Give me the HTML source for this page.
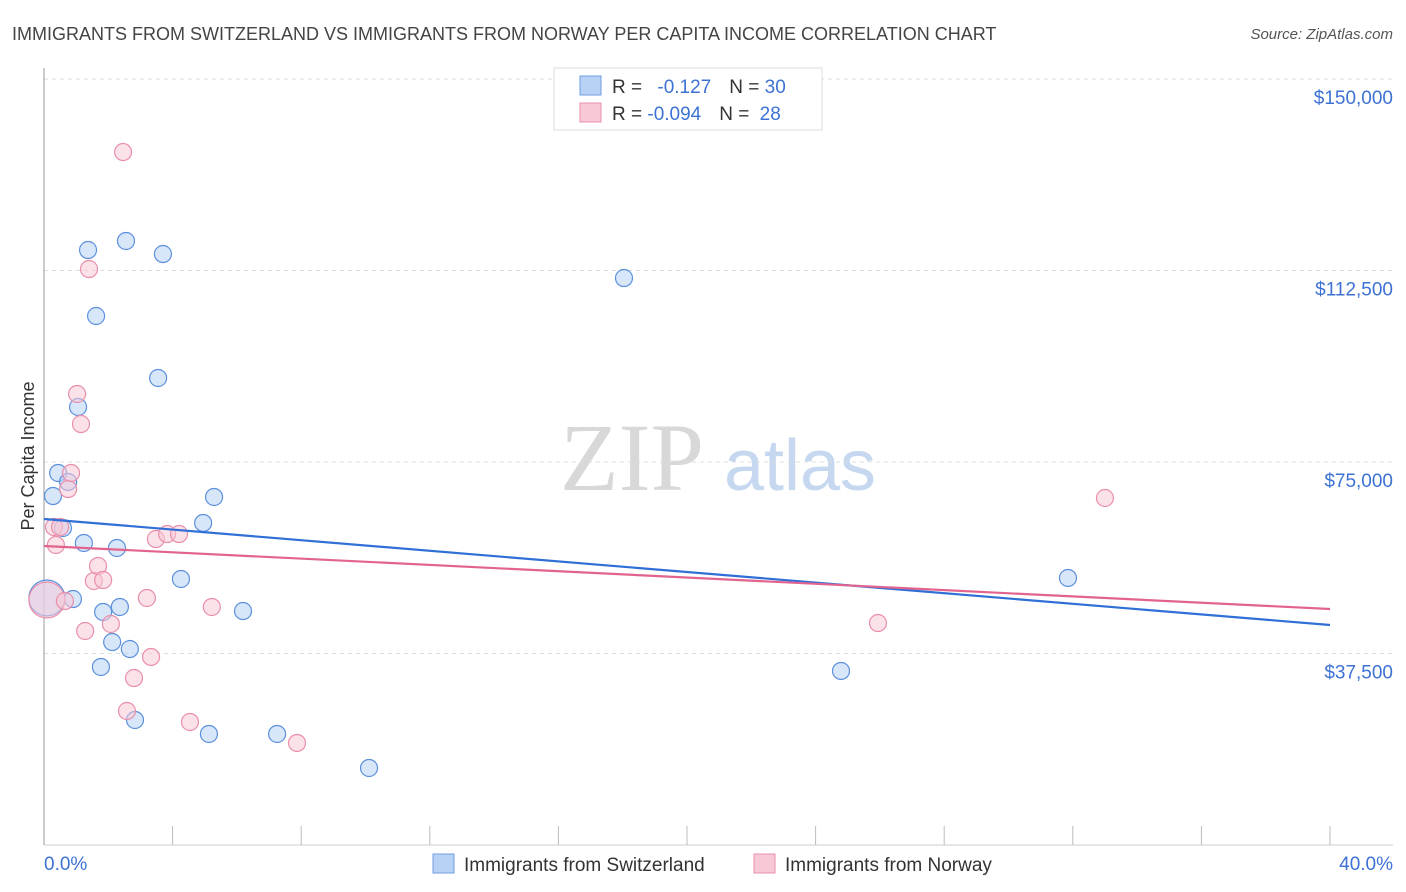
<!DOCTYPE html>
<html><head><meta charset="utf-8"><style>
body{margin:0;background:#fff;font-family:"Liberation Sans",sans-serif;}
svg{display:block}
</style></head><body>
<svg width="1406" height="892">
<text x="12" y="40" font-size="18" fill="#444">IMMIGRANTS FROM SWITZERLAND VS IMMIGRANTS FROM NORWAY PER CAPITA INCOME CORRELATION CHART</text>
<text x="1393" y="39" font-size="15" fill="#555" font-style="italic" text-anchor="end">Source: ZipAtlas.com</text>
<g>
<text x="632" y="490" font-size="96" fill="#d8d8d8" text-anchor="middle" font-family="Liberation Serif, serif">ZIP</text>
<text x="800" y="490" font-size="72" fill="#c5d8f0" text-anchor="middle">atlas</text>
</g>
<g id="grid"></g>
<g id="axes"></g>
<g id="marks"></g>
<text transform="translate(34,456) rotate(-90)" font-size="18" fill="#333" text-anchor="middle">Per Capita Income</text>
<g>
<rect x="554" y="68" width="268" height="62" fill="#fff" stroke="#ddd"/>
<rect x="580" y="76" width="21" height="19" fill="#b8d2f5" stroke="#6f9ee0"/>
<rect x="580" y="103" width="21" height="19" fill="#f8c8d6" stroke="#ea8fab"/>
<text x="612" y="93" font-size="19" fill="#333">R = <tspan fill="#3d72d4" dx="10">-0.127</tspan><tspan dx="18">N = </tspan><tspan fill="#3d72d4">30</tspan></text>
<text x="612" y="120" font-size="19" fill="#333">R = <tspan fill="#3d72d4">-0.094</tspan><tspan dx="18">N = </tspan><tspan fill="#3d72d4" dx="5">28</tspan></text>
</g>
<g>
<rect x="433" y="854" width="21" height="19" fill="#b8d2f5" stroke="#6f9ee0"/>
<text x="464" y="871" font-size="19" fill="#333">Immigrants from Switzerland</text>
<rect x="754" y="854" width="21" height="19" fill="#f8c8d6" stroke="#ea8fab"/>
<text x="785" y="871" font-size="19" fill="#333">Immigrants from Norway</text>
</g>
</svg>
<script>
const yTicks=[150000,112500,75000,37500];
const yTickLabels=["$150,000","$112,500","$75,000","$37,500"];
const xTickLabels=["0.0%","40.0%"];
const swissX=[0.09,0.28,0.44,0.59,0.75,0.90,1.06,1.24,1.37,1.62,1.77,1.84,2.12,2.27,2.36,2.55,2.67,2.83,3.55,3.70,4.26,4.95,5.13,5.29,6.19,7.25,10.11,18.04,24.79,31.85];
const swissY=[48370,68340,72850,62080,71090,48170,85770,59140,116510,103590,34860,45630,39750,58160,46610,118280,38380,24480,91450,115730,52090,63060,21740,68150,45820,21740,15080,111030,34080,52290];
const norX=[0.09,0.31,0.37,0.50,0.65,0.75,0.84,1.03,1.15,1.28,1.40,1.55,1.68,1.84,2.08,2.46,2.58,2.80,3.20,3.33,3.48,3.83,4.20,4.54,5.22,7.87,25.94,33.00];
const norY=[47980,62270,58750,62270,47780,69710,72850,88320,82440,41910,112790,51700,54640,51890,43280,135700,26240,32700,48370,36820,59920,60900,60900,24090,46610,19980,43470,67950];
const swissTrend=[63840,43080];
const norTrend=[58550,46210];
const NS="http://www.w3.org/2000/svg";
const X0=44,X1=1330,Y0=845,YT=79;
function xs(v){return X0+v/40*(X1-X0);}
function ys(v){return Y0-v/150000*(Y0-YT);}
function mk(t,a,p){const e=document.createElementNS(NS,t);for(const k in a)e.setAttribute(k,a[k]);p.appendChild(e);return e;}
const grid=document.getElementById('grid'),axes=document.getElementById('axes'),marks=document.getElementById('marks');
yTicks.forEach((v,i)=>{
 const l=mk('line',{x1:X0,x2:1393,y1:ys(v),y2:ys(v),stroke:'#ddd','stroke-dasharray':'4,4'},grid);
 
 
 const t=mk('text',{x:1393,y:ys(v)+25,'font-size':19,fill:'#3d72d4','text-anchor':'end'},axes);
 t.textContent=yTickLabels[i];
 
 
});
const ya=mk('line',{x1:X0,x2:X0,y1:68,y2:Y0,stroke:'#999'},axes);


const xa=mk('line',{x1:X0,x2:1393,y1:Y0,y2:Y0,stroke:'#ccc'},axes);


for(let i=1;i<=10;i++){
 const tk=mk('line',{x1:xs(i*4),x2:xs(i*4),y1:826,y2:Y0,stroke:'#bbb'},axes);
 
 
}
const xl0=mk('text',{x:X0,y:870,'font-size':19,fill:'#3d72d4'},axes);xl0.textContent=xTickLabels[0];


const xl1=mk('text',{x:1393,y:870,'font-size':19,fill:'#3d72d4','text-anchor':'end'},axes);xl1.textContent=xTickLabels[1];


function pts(X,Y,fill,stroke,name){
 X.forEach((x,i)=>{
  const c=mk('circle',{cx:xs(x),cy:ys(Y[i]),r:i===0?18:8.5,fill:fill,'fill-opacity':0.55,stroke:stroke,'stroke-width':1.2},marks);
  
  
 });
}
pts(swissX,swissY,'#b8d2f5','#5c90dd','point-switzerland');
pts(norX,norY,'#f8c8d6','#ea8fab','point-norway');
const t1=mk('line',{x1:xs(0),x2:xs(40),y1:ys(swissTrend[0]),y2:ys(swissTrend[1]),stroke:'#2f6fd6','stroke-width':2.2},marks);


const t2=mk('line',{x1:xs(0),x2:xs(40),y1:ys(norTrend[0]),y2:ys(norTrend[1]),stroke:'#e2648e','stroke-width':2.2},marks);


</script>
</body></html>
